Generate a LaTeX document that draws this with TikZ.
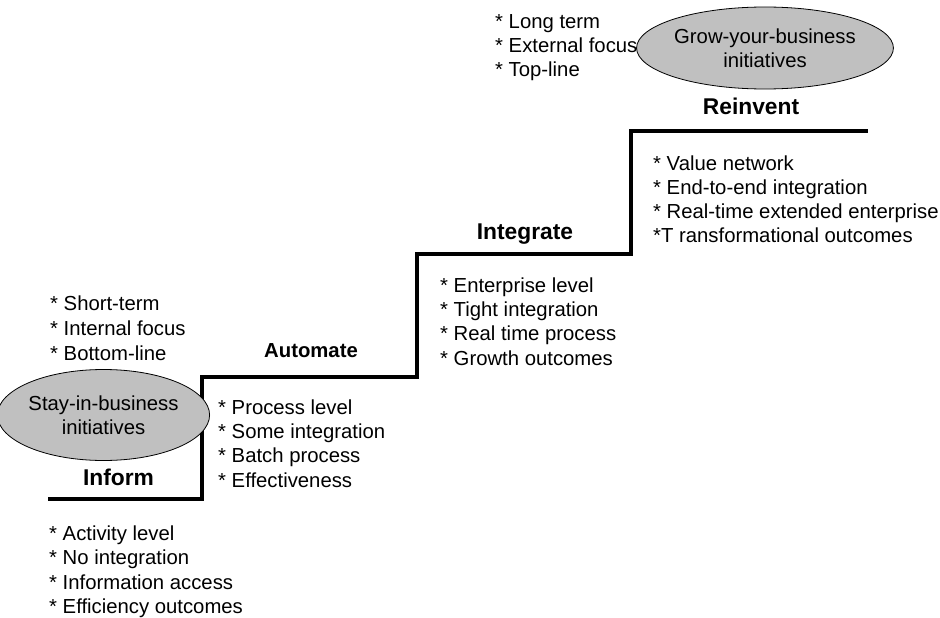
\documentclass[tikz,border=0pt]{standalone}
\usepackage{fontspec}
\setmainfont{Liberation Sans}
\usetikzlibrary{shapes.geometric}
\definecolor{ellgray}{RGB}{192,192,192}
\begin{document}
\begin{tikzpicture}[x=1pt,y=-1pt,
  item/.style={anchor=base west,inner sep=0pt,font=\fontsize{20.3}{24.4}\selectfont},
  ttl/.style={anchor=base,inner sep=0pt,font=\fontsize{22.8}{26}\selectfont\bfseries},
  ttlsmall/.style={anchor=base,inner sep=0pt,font=\fontsize{20.3}{24}\selectfont\bfseries},
  bubble/.style={ellipse,draw=black,line width=0.8pt,fill=ellgray,inner sep=0pt,align=center,font=\fontsize{20.3}{24.4}\selectfont},
  stair/.style={line width=3.2pt,line join=miter,line cap=butt}]
\useasboundingbox (0,0) rectangle (940,618);

% staircase
\coordinate (s0) at (48,499);
\coordinate (s1) at (202,499);
\coordinate (s2) at (202,377);
\coordinate (s3) at (417,377);
\coordinate (s4) at (417,254);
\coordinate (s5) at (631,254);
\coordinate (s6) at (631,131);
\coordinate (s7) at (868,131);
\draw[stair] (s0) -- (s1) -- (s2) -- (s3) -- (s4) -- (s5) -- (s6) -- (s7);

% ellipses
\node[bubble,minimum width=185pt,minimum height=91pt] (stay) at (103.5,415) {Stay-in-business\\initiatives};
\node[bubble,minimum width=222pt,minimum height=82pt] (grow) at (765,48) {Grow-your-business\\initiatives};

% titles
\node[ttl] (inform) at (118.5,485.5) {Inform};
\node[ttlsmall] (automate) at (311,357.5) {Automate};
\node[ttl] (integrate) at (525,239.3) {Integrate};
\node[ttl] (reinvent) at (751,114.3) {Reinvent};

% lists
\foreach \t [count=\i from 0] in {* Short-term,* Internal focus,* Bottom-line}
  \node[item] (la\i) at (50,{310.6+24.7*\i}) {\t};
\foreach \t [count=\i from 0] in {* Activity level,* No integration,* Information access,* Efficiency outcomes}
  \node[item] (lb\i) at (49,{540.6+24.2*\i}) {\t};
\foreach \t [count=\i from 0] in {* Process level,* Some integration,* Batch process,* Effectiveness}
  \node[item] (lc\i) at (218,{414+24.4*\i}) {\t};
\foreach \t [count=\i from 0] in {* Enterprise level,* Tight integration,* Real time process,* Growth outcomes}
  \node[item] (ld\i) at (440,{292.3+24.3*\i}) {\t};
\foreach \t [count=\i from 0] in {* Value network,* End-to-end integration,* Real-time extended enterprise,*T ransformational outcomes}
  \node[item] (le\i) at (653,{170.3+24*\i}) {\t};
\foreach \t [count=\i from 0] in {* Long term,* External focus,* Top-line}
  \node[item] (lf\i) at (495,{28.3+24*\i}) {\t};
\end{tikzpicture}
\end{document}
